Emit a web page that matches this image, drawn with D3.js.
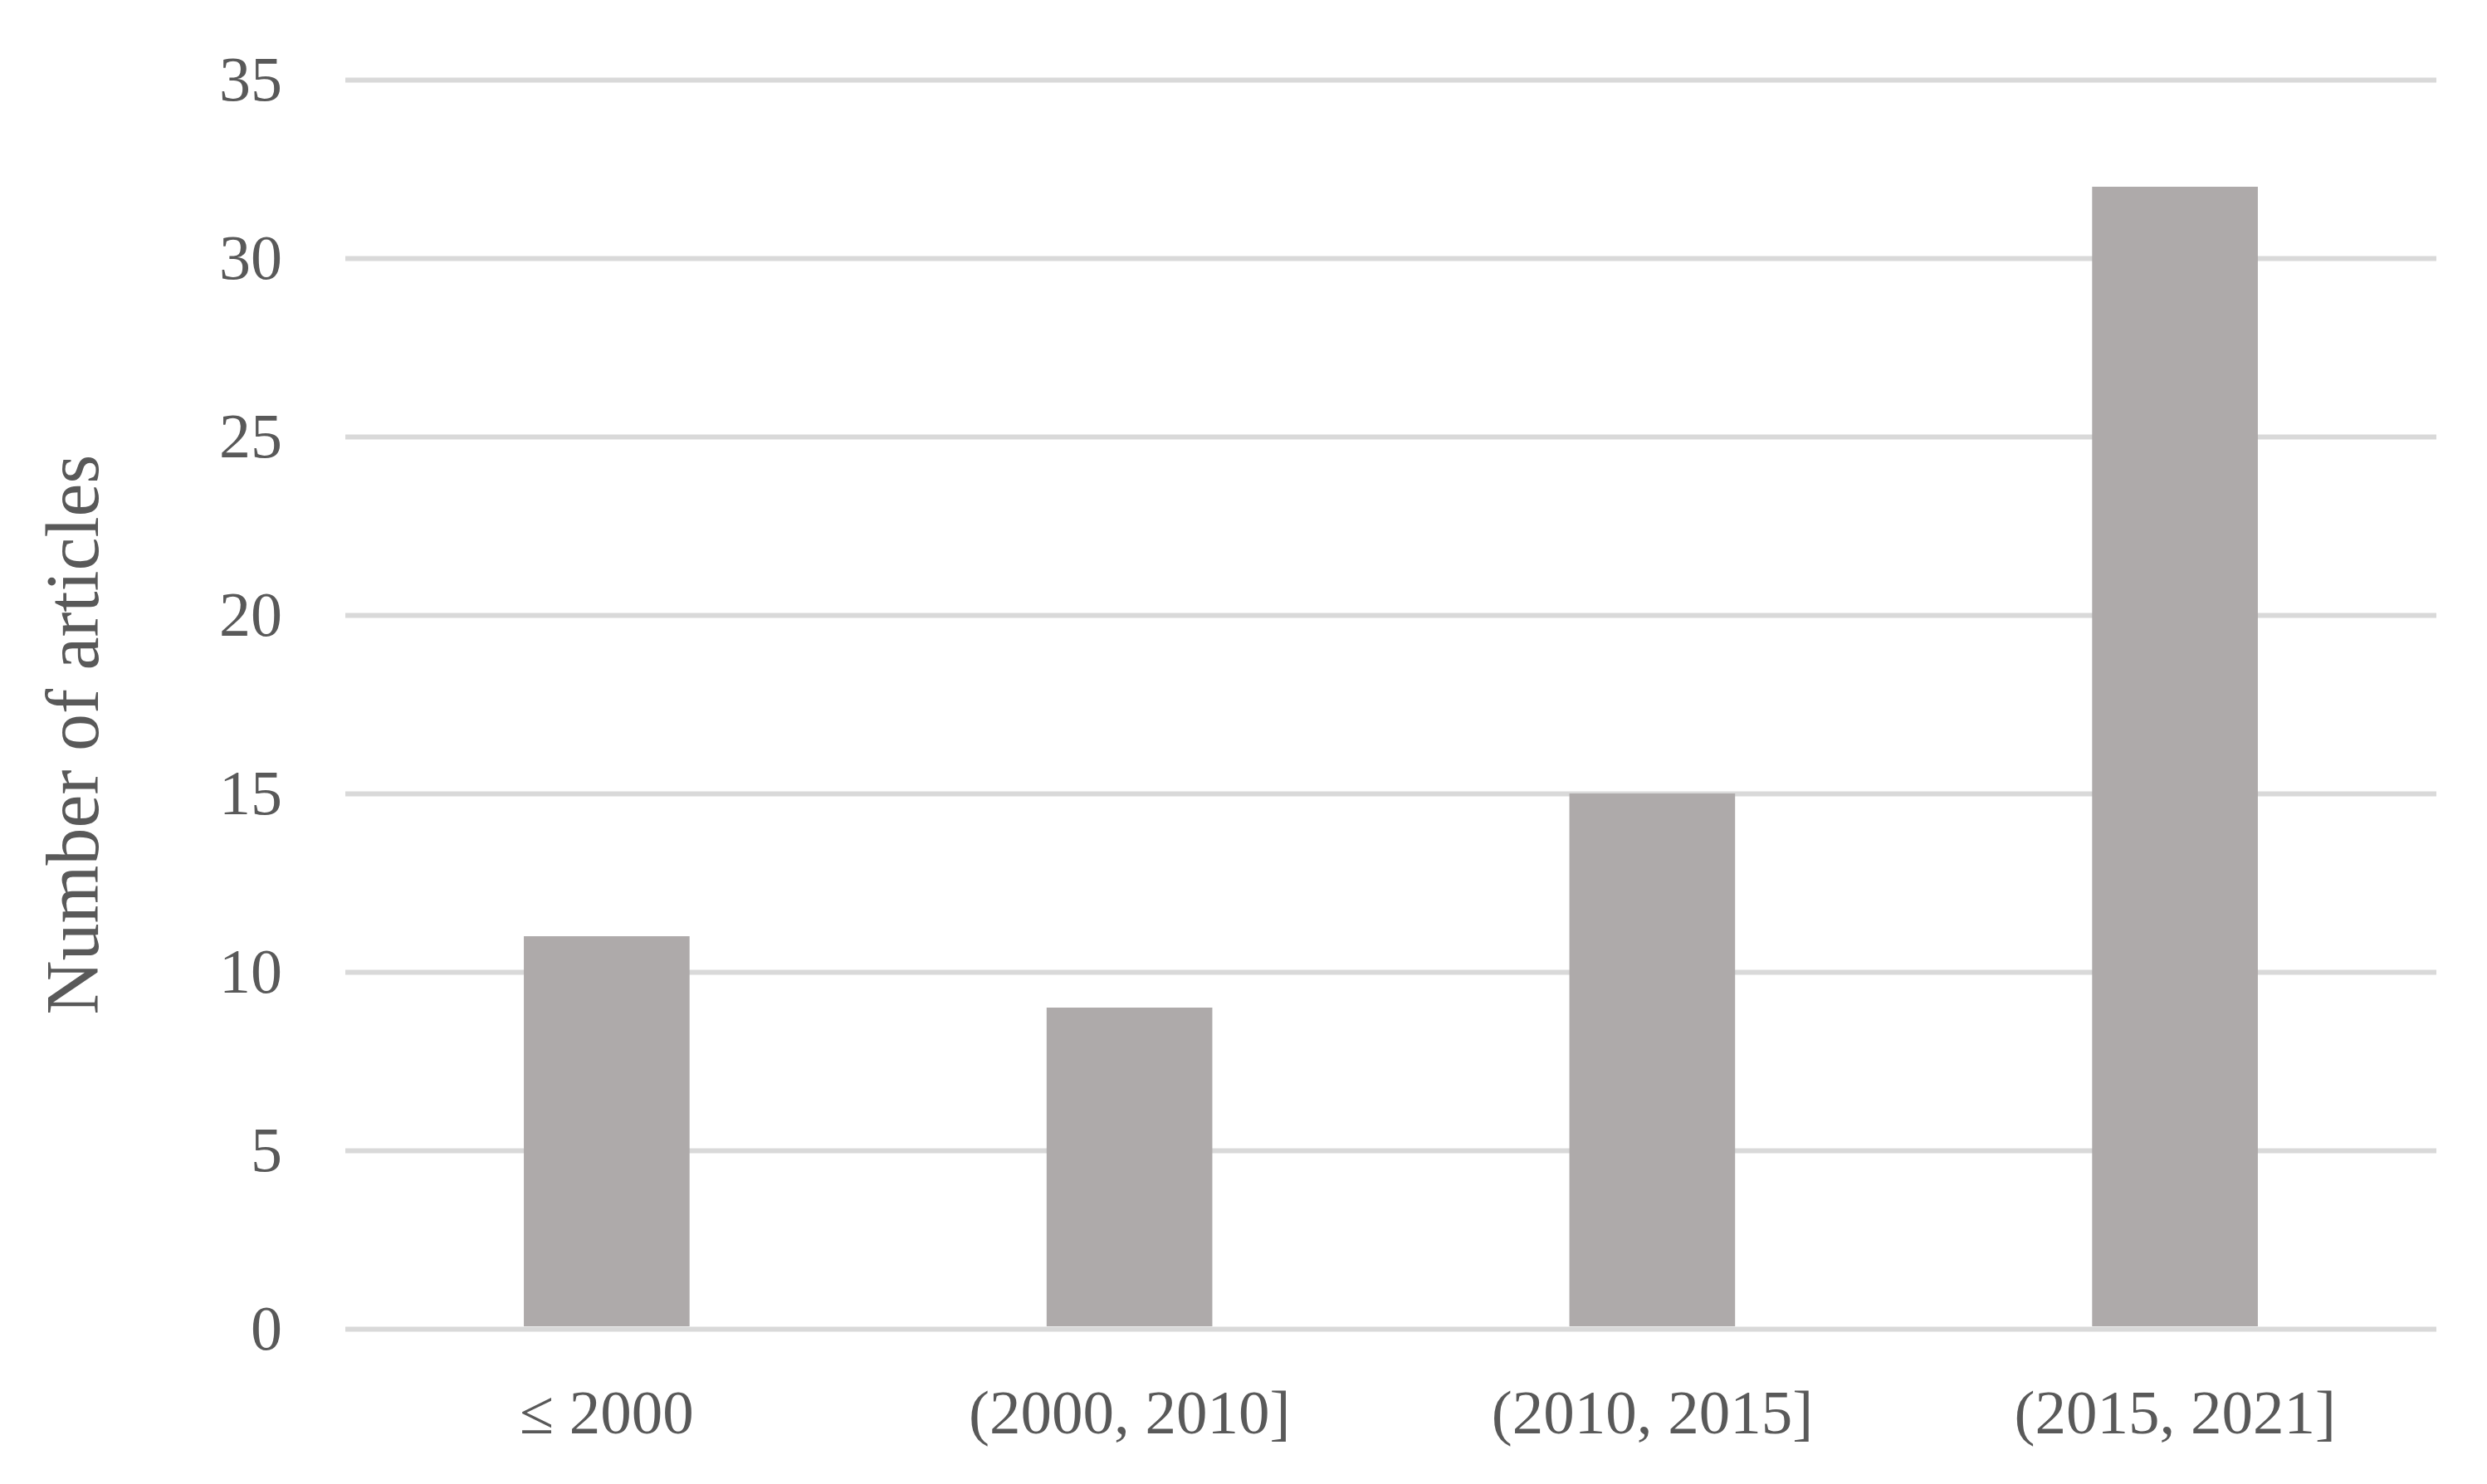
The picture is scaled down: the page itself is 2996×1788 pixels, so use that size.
<!DOCTYPE html>
<html lang="en">
<head>
    <meta charset="UTF-8">
    <title>Number of articles by period</title>
    <script src="https://d3js.org/d3.v7.min.js"></script>
    <style>
        html, body { margin: 0; padding: 0; background: #fff; }
    </style>
</head>
<body>
    <div id="chart"></div>
    <script>
        // data
        var categories = ["\u2264 2000", "(2000, 2010]", "(2010, 2015]", "(2015, 2021]"];
        var articles = [11, 9, 15, 32];
        var yTicks = [0, 5, 10, 15, 20, 25, 30, 35];

        var W = 2996, H = 1788;
        var margin = {top: 96, right: 61, bottom: 187, left: 416};
        var width = W - margin.left - margin.right;
        var height = H - margin.top - margin.bottom;

        var textColor = "#595959";
        var fontFamily = "'Liberation Serif', 'DejaVu Serif', serif";

        var svg = d3.select("#chart").append("svg")
            .attr("width", W)
            .attr("height", H);

        var g = svg.append("g")
            .attr("transform", "translate(" + margin.left + "," + margin.top + ")");

        var x = d3.scaleBand()
            .domain(categories)
            .range([0, width])
            .paddingInner(0.683)
            .paddingOuter(0.3415);

        var y = d3.scaleLinear()
            .domain([0, 35])
            .range([height, 0]);

        // gridlines + tick labels
        var yAxis = g.append("g")
            .call(d3.axisLeft(y)
                .tickValues(yTicks)
                .tickSize(-width)
                .tickPadding(76));
        yAxis.select(".domain").remove();
        yAxis.selectAll(".tick line")
            .attr("stroke", "#d9d9d9")
            .attr("stroke-width", 6);
        yAxis.selectAll(".tick text")
            .attr("fill", textColor)
            .style("font-family", fontFamily)
            .style("font-size", "76px");

        // bars
        g.selectAll(".bar")
            .data(articles)
            .enter().append("rect")
            .attr("class", "bar")
            .attr("x", (d, i) => x(categories[i]))
            .attr("width", x.bandwidth())
            .attr("y", d => y(d))
            .attr("height", d => y(0) - y(d) - 3)
            .attr("fill", "#aeaaaa");

        // category labels
        var xAxis = g.append("g")
            .attr("transform", "translate(0," + height + ")")
            .call(d3.axisBottom(x).tickSize(0).tickPadding(73));
        xAxis.select(".domain").remove();
        xAxis.selectAll(".tick text")
            .attr("fill", textColor)
            .style("font-family", fontFamily)
            .style("font-size", "75px");

        // y axis title
        svg.append("text")
            .attr("transform", "translate(118," + 885 + ") rotate(-90)")
            .attr("text-anchor", "middle")
            .attr("fill", textColor)
            .style("font-family", fontFamily)
            .style("font-size", "90px")
            .text("Number of articles");
    </script>
</body>
</html>
